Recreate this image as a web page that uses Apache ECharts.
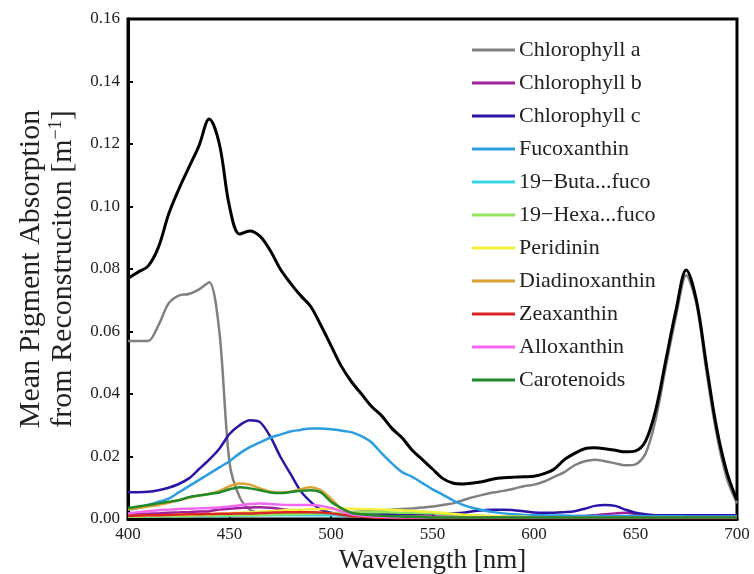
<!DOCTYPE html>
<html>
<head>
<meta charset="utf-8">
<script src="https://cdn.jsdelivr.net/npm/echarts@6/dist/echarts.min.js"></script>
<style>
html,body{margin:0;padding:0;background:#fff;}
#chart{width:754px;height:574px;}
</style>
</head>
<body>
<div id="chart"></div>
<script>
// Wavelength grid (nm), 5 nm step
const wavelengths = [
  400,405,410,415,420,425,430,435,440,445,
  450,455,460,465,470,475,480,485,490,495,
  500,505,510,515,520,525,530,535,540,545,
  550,555,560,565,570,575,580,585,590,595,
  600,605,610,615,620,625,630,635,640,645,
  650,655,660,665,670,675,680,685,690,695,
  700
];
const xTicks = [400,450,500,550,600,650,700];
const yTicks = [0,0.02,0.04,0.06,0.08,0.10,0.12,0.14,0.16];

const totalAbs = [
  0.077,0.079,0.081,0.087,0.0975,0.1055,0.1125,0.1195,0.128,0.120,
  0.100,0.0912,0.0922,0.0905,0.086,0.080,0.0755,0.0715,0.068,0.062,
  0.0555,0.049,0.044,0.040,0.036,0.033,0.029,0.026,0.022,0.019,
  0.016,0.013,0.0115,0.0112,0.0115,0.012,0.0128,0.0132,0.0134,0.0135,
  0.0137,0.0145,0.016,0.019,0.021,0.0225,0.0228,0.0225,0.022,0.0215,
  0.0218,0.025,0.035,0.051,0.067,0.0797,0.070,0.049,0.029,0.015,
  0.006
];
const chlA = [
  0.057,0.057,0.057,0.062,0.069,0.0715,0.072,0.0735,0.0758,0.060,
  0.018,0.007,0.003,0.002,0.0016,0.0015,0.0015,0.0015,0.0016,0.0017,
  0.0018,0.002,0.0022,0.0024,0.0026,0.0028,0.003,0.0032,0.0034,0.0037,
  0.004,0.0045,0.005,0.006,0.007,0.0078,0.0085,0.009,0.0097,0.0105,
  0.011,0.012,0.0135,0.015,0.0172,0.0185,0.019,0.0185,0.0178,0.0172,
  0.0175,0.021,0.032,0.049,0.065,0.078,0.069,0.047,0.027,0.013,
  0.005
];
const chlB = [
  0.0015,0.0016,0.0017,0.0018,0.002,0.0021,0.0022,0.0024,0.0025,0.003,
  0.0033,0.0035,0.0037,0.0038,0.0036,0.0032,0.0028,0.0024,0.002,0.0018,
  0.0015,0.0012,0.001,0.0009,0.0008,0.0008,0.0008,0.0008,0.0008,0.0008,
  0.0008,0.0008,0.0008,0.0008,0.0008,0.0008,0.0008,0.0008,0.0008,0.0008,
  0.0008,0.0008,0.0008,0.0008,0.0009,0.001,0.0012,0.0015,0.0018,0.002,
  0.0016,0.001,0.0008,0.0008,0.0007,0.0007,0.0006,0.0006,0.0005,0.0005,
  0.0005
];
const chlC = [
  0.0086,0.0086,0.0087,0.0092,0.010,0.0112,0.013,0.016,0.019,0.0225,
  0.0272,0.030,0.0316,0.031,0.0265,0.020,0.0145,0.009,0.0055,0.003,
  0.002,0.0016,0.0015,0.0015,0.0015,0.0015,0.0015,0.0015,0.0015,0.0015,
  0.0016,0.0017,0.0018,0.002,0.0025,0.0028,0.003,0.003,0.0028,0.0025,
  0.0021,0.002,0.002,0.0022,0.0025,0.0033,0.0042,0.0045,0.0042,0.003,
  0.002,0.0015,0.0012,0.0012,0.0012,0.0012,0.0012,0.0012,0.0012,0.0012,
  0.0012
];
const fucoxanthin = [
  0.003,0.0035,0.0045,0.0055,0.0065,0.0085,0.0105,0.0125,0.0145,0.0165,
  0.0185,0.021,0.023,0.0245,0.026,0.027,0.028,0.0285,0.029,0.029,
  0.0287,0.0283,0.0278,0.0265,0.0245,0.021,0.0178,0.015,0.0135,0.0115,
  0.0095,0.0078,0.006,0.0045,0.0035,0.0028,0.0022,0.0018,0.0015,0.0013,
  0.0012,0.0012,0.0011,0.0011,0.001,0.001,0.001,0.001,0.001,0.001,
  0.001,0.0009,0.0009,0.0009,0.0009,0.0008,0.0008,0.0008,0.0008,0.0008,
  0.0008
];
const butaFuco = [
  0.0008,0.0008,0.0008,0.0009,0.0009,0.0009,0.001,0.001,0.001,0.001,
  0.001,0.0011,0.0011,0.0012,0.0012,0.0012,0.0012,0.0012,0.0012,0.0012,
  0.0012,0.0011,0.001,0.0009,0.0008,0.0007,0.0006,0.0005,0.0005,0.0005,
  0.0004,0.0004,0.0004,0.0004,0.0004,0.0004,0.0004,0.0004,0.0004,0.0004,
  0.0004,0.0004,0.0004,0.0004,0.0004,0.0004,0.0004,0.0004,0.0004,0.0004,
  0.0004,0.0004,0.0004,0.0004,0.0004,0.0004,0.0004,0.0004,0.0004,0.0004,
  0.0004
];
const hexaFuco = [
  0.0008,0.0008,0.0009,0.0009,0.001,0.001,0.001,0.0011,0.0011,0.0012,
  0.0012,0.0012,0.0013,0.0013,0.0014,0.0015,0.0015,0.0016,0.0017,0.0018,
  0.0019,0.002,0.0021,0.0022,0.0022,0.0022,0.0021,0.002,0.002,0.0019,
  0.0018,0.0016,0.0015,0.0013,0.0011,0.001,0.0009,0.0008,0.0007,0.0007,
  0.0006,0.0006,0.0006,0.0006,0.0006,0.0006,0.0006,0.0006,0.0006,0.0006,
  0.0006,0.0006,0.0006,0.0006,0.0006,0.0006,0.0006,0.0006,0.0006,0.0006,
  0.0006
];
const peridinin = [
  0.001,0.001,0.0011,0.0012,0.0012,0.0013,0.0014,0.0015,0.0015,0.0017,
  0.0018,0.002,0.0021,0.0023,0.0025,0.0027,0.0029,0.003,0.0031,0.0032,
  0.0033,0.0033,0.0033,0.0032,0.0031,0.003,0.0029,0.0028,0.0026,0.0024,
  0.0022,0.002,0.0017,0.0014,0.0012,0.001,0.0009,0.0008,0.0007,0.0007,
  0.0006,0.0006,0.0006,0.0006,0.0006,0.0006,0.0006,0.0006,0.0006,0.0006,
  0.0006,0.0006,0.0006,0.0006,0.0006,0.0006,0.0006,0.0006,0.0006,0.0006,
  0.0006
];
const diadinoxanthin = [
  0.003,0.0035,0.004,0.0045,0.0052,0.006,0.0068,0.0075,0.008,0.009,
  0.0105,0.0114,0.011,0.0098,0.0088,0.0085,0.0087,0.0095,0.0102,0.0092,
  0.0065,0.0035,0.002,0.0013,0.001,0.0009,0.0008,0.0008,0.0007,0.0007,
  0.0006,0.0006,0.0006,0.0006,0.0006,0.0006,0.0006,0.0006,0.0006,0.0006,
  0.0006,0.0006,0.0006,0.0006,0.0006,0.0006,0.0006,0.0006,0.0006,0.0006,
  0.0006,0.0006,0.0006,0.0006,0.0006,0.0006,0.0006,0.0006,0.0006,0.0006,
  0.0006
];
const zeaxanthin = [
  0.001,0.0011,0.0012,0.0012,0.0013,0.0014,0.0015,0.0015,0.0016,0.0017,
  0.0017,0.0018,0.0018,0.0019,0.002,0.0021,0.0022,0.0022,0.0022,0.0021,
  0.0018,0.0014,0.001,0.0007,0.0005,0.0004,0.0004,0.0003,0.0003,0.0003,
  0.0003,0.0003,0.0003,0.0003,0.0003,0.0003,0.0003,0.0003,0.0003,0.0003,
  0.0003,0.0003,0.0003,0.0003,0.0003,0.0003,0.0003,0.0003,0.0003,0.0003,
  0.0003,0.0003,0.0003,0.0003,0.0003,0.0003,0.0003,0.0003,0.0003,0.0003,
  0.0003
];
const alloxanthin = [
  0.0018,0.0022,0.0025,0.0028,0.003,0.0032,0.0033,0.0034,0.0035,0.0037,
  0.004,0.0044,0.0048,0.005,0.0048,0.0046,0.0045,0.0045,0.0045,0.0042,
  0.0035,0.0025,0.0015,0.001,0.0008,0.0007,0.0006,0.0006,0.0005,0.0005,
  0.0005,0.0005,0.0005,0.0005,0.0005,0.0005,0.0005,0.0005,0.0005,0.0005,
  0.0005,0.0005,0.0005,0.0005,0.0005,0.0005,0.0005,0.0005,0.0005,0.0005,
  0.0005,0.0005,0.0005,0.0005,0.0005,0.0005,0.0005,0.0005,0.0005,0.0005,
  0.0005
];
const carotenoids = [
  0.0035,0.004,0.0045,0.005,0.0055,0.006,0.007,0.0075,0.008,0.0085,
  0.0095,0.0102,0.0098,0.0092,0.0085,0.0083,0.0086,0.009,0.0092,0.0085,
  0.0055,0.0035,0.002,0.0015,0.0012,0.001,0.0009,0.0008,0.0007,0.0006,
  0.0005,0.0005,0.0005,0.0005,0.0005,0.0005,0.0005,0.0005,0.0005,0.0005,
  0.0005,0.0005,0.0005,0.0005,0.0005,0.0005,0.0005,0.0005,0.0005,0.0005,
  0.0005,0.0005,0.0005,0.0005,0.0005,0.0005,0.0005,0.0005,0.0005,0.0005,
  0.0005
];

const pigmentNames = ['Chlorophyll a','Chlorophyll b','Chlorophyll c','Fucoxanthin',
  '19\u2212Buta...fuco','19\u2212Hexa...fuco','Peridinin','Diadinoxanthin',
  'Zeaxanthin','Alloxanthin','Carotenoids'];
const pigmentValues = [chlA, chlB, chlC, fucoxanthin, butaFuco, hexaFuco, peridinin,
  diadinoxanthin, zeaxanthin, alloxanthin, carotenoids];
const pigmentColors = ['#808080','#a0209a','#2a14a8','#2a9ee0','#38d4e6','#8ee65a',
  '#f2f03a','#dca234','#dc2424','#f266f0','#208a28'];

const FONT = 'Liberation Serif';
const chart = echarts.init(document.getElementById('chart'), null, {renderer:'canvas'});

const toPairs = arr => wavelengths.map((w, i) => [w, arr[i]]);

const series = pigmentNames.map((name, k) => ({
  name: name,
  type: 'line',
  data: toPairs(pigmentValues[k]),
  showSymbol: false,
  symbol: 'none',
  smooth: 0.3,
  lineStyle: {color: pigmentColors[k], width: 2.5},
  itemStyle: {color: pigmentColors[k]},
  z: 2
}));
series.push({
  name: 'Total',
  type: 'line',
  data: toPairs(totalAbs),
  showSymbol: false,
  symbol: 'none',
  smooth: 0.35,
  lineStyle: {color: '#000', width: 3},
  itemStyle: {color: '#000'},
  z: 3
});

chart.setOption({
  animation: false,
  backgroundColor: '#fff',
  grid: {left: 128, right: 17, top: 19, bottom: 55, show: true,
         outerBoundsMode: 'none', containLabel: false,
         borderColor: '#000', borderWidth: 3, backgroundColor: 'transparent'},
  legend: {
    data: pigmentNames,
    orient: 'vertical',
    left: 467, top: 34,
    icon: 'rect',
    itemWidth: 43, itemHeight: 3, itemGap: 11,
    textStyle: {fontFamily: FONT, fontSize: 22, color: '#222', padding: [0,0,0,-1]},
    selectedMode: false
  },
  xAxis: {
    type: 'value', min: 400, max: 700, interval: 50,
    name: 'Wavelength [nm]', nameLocation: 'middle', nameGap: 21,
    nameTextStyle: {fontFamily: FONT, fontSize: 27, color: '#222'},
    axisLine: {show: true, lineStyle: {color: '#000', width: 3}},
    axisTick: {show: true, inside: true, length: 5, lineStyle: {color: '#000', width: 2}},
    axisLabel: {fontFamily: FONT, fontSize: 17, color: '#222', margin: 7,
      customValues: xTicks},
    splitLine: {show: false}
  },
  yAxis: {
    type: 'value', min: 0, max: 0.16, interval: 0.02,
    name: 'Mean Pigment Absorption\nfrom Reconstruciton [m{sup|\u22121}]',
    nameLocation: 'middle', nameRotate: 90, nameGap: 40,
    nameTextStyle: {fontFamily: FONT, fontSize: 30, color: '#222', lineHeight: 32,
      rich: {sup: {fontFamily: FONT, fontSize: 18, color: '#222', verticalAlign: 'top', lineHeight: 32}}},
    axisLine: {show: true, lineStyle: {color: '#000', width: 3}},
    axisTick: {show: true, inside: true, length: 5, lineStyle: {color: '#000', width: 2}},
    axisLabel: {fontFamily: FONT, fontSize: 17, color: '#222', margin: 8,
      formatter: v => v.toFixed(2)},
    splitLine: {show: false}
  },
  series: series
});
</script>
</body>
</html>
